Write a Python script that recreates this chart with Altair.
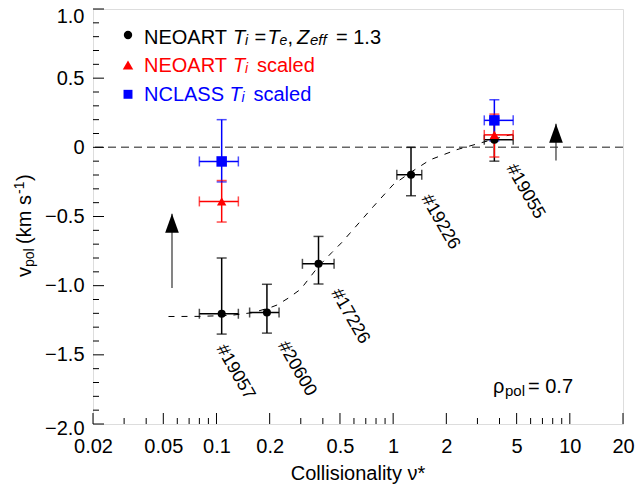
import altair as alt
import pandas as pd

FONT = "Liberation Sans"

# ---------------- data ----------------
series_names = ["NEOART Ti=Te", "NEOART Ti scaled", "NCLASS Ti scaled"]
series_colors = ["black", "red", "blue"]

black_x = [0.107, 0.193, 0.378, 1.262, 3.74]
black_y = [-1.203, -1.194, -0.842, -0.198, 0.055]
black_xlo = [0.080, 0.154, 0.3065, 1.049, 3.28]
black_xhi = [0.133, 0.226, 0.463, 1.452, 4.78]
black_ylo = [-1.35, -1.343, -0.988, -0.35, -0.10]
black_yhi = [-0.80, -0.99, -0.644, 0.0, 0.21]

red_x = [0.107, 3.74]
red_y = [-0.391, 0.09]
red_xlo = [0.080, 3.28]
red_xhi = [0.133, 4.78]
red_ylo = [-0.54, -0.07]
red_yhi = [-0.24, 0.24]

blue_x = [0.107, 3.74]
blue_y = [-0.102, 0.195]
blue_xlo = [0.080, 3.28]
blue_xhi = [0.133, 4.78]
blue_ylo = [-0.25, 0.046]
blue_yhi = [0.2, 0.344]

shot_labels = ["#19057", "#20600", "#17226", "#19226", "#19055"]
shot_label_x = [0.128, 0.285, 0.57, 1.85, 5.6]
shot_label_y = [-1.625, -1.6, -1.222, -0.54, -0.319]

curve_x = [0.0535, 0.08, 0.12, 0.16, 0.2, 0.22, 0.255, 0.3, 0.378, 0.45, 0.51,
           0.57, 0.77, 1.0, 1.26, 1.62, 2.29, 2.97, 4.0, 4.9]
curve_y = [-1.223, -1.222, -1.215, -1.195, -1.16, -1.14, -1.09, -1.025, -0.86,
           -0.76, -0.69, -0.62, -0.43, -0.27, -0.18, -0.09, -0.017, 0.024, 0.07, 0.1]

arrow_x = [0.056, 8.35]
arrow_tail = [-1.017, -0.095]
arrow_tip = [-0.48, 0.171]

x_label_values = [0.02, 0.05, 0.1, 0.2, 0.5, 1, 2, 5, 10, 20]
x_minor_values = [0.03, 0.04, 0.06, 0.07, 0.08, 0.09, 0.3, 0.4, 0.6, 0.7, 0.8, 0.9,
                  3, 4, 6, 7, 8, 9]
y_label_values = [-2.0, -1.5, -1.0, -0.5, 0.0, 0.5, 1.0]
y_minor_values = [-1.9, -1.8, -1.7, -1.6, -1.4, -1.3, -1.2, -1.1, -0.9, -0.8, -0.7,
                  -0.6, -0.4, -0.3, -0.2, -0.1, 0.1, 0.2, 0.3, 0.4, 0.6, 0.7, 0.8, 0.9]

# ---------------- tables ----------------
rows = []
for name, xs_, ys_, xl, xh, yl, yh in [
    (series_names[0], black_x, black_y, black_xlo, black_xhi, black_ylo, black_yhi),
    (series_names[1], red_x, red_y, red_xlo, red_xhi, red_ylo, red_yhi),
    (series_names[2], blue_x, blue_y, blue_xlo, blue_xhi, blue_ylo, blue_yhi),
]:
    for i in range(len(xs_)):
        rows.append(dict(series=name, x=xs_[i], y=ys_[i], xlo=xl[i], xhi=xh[i],
                         ylo=yl[i], yhi=yh[i]))
pts = pd.DataFrame(rows)
labels_df = pd.DataFrame(dict(label=shot_labels, x=shot_label_x, y=shot_label_y))
curve_df = pd.DataFrame(dict(x=curve_x, y=curve_y, o=list(range(len(curve_x)))))
arrow_df = pd.DataFrame(dict(x=arrow_x, tail=arrow_tail, tip=arrow_tip))
xmaj_df = pd.DataFrame(dict(v=x_label_values))
xmin_df = pd.DataFrame(dict(v=x_minor_values))
ymaj_df = pd.DataFrame(dict(v=y_label_values))
ymin_df = pd.DataFrame(dict(v=y_minor_values))
one = pd.DataFrame(dict(a=[0]))

W, H = 530, 415

xs = alt.Scale(type="log", domain=[0.02, 20], nice=False)
ys = alt.Scale(domain=[-2, 1], nice=False)

xaxis = alt.Axis(values=x_label_values, labelExpr="format(datum.value, '~g')",
                 labelFontSize=20, labelFont=FONT, labelColor="black", labelPadding=12,
                 ticks=False, tickSize=0, domain=False, grid=False, title=None,
                 labelFlush=False, labelOverlap=False)
yaxis = alt.Axis(values=y_label_values,
                 labelExpr="datum.value == 0 ? '0' : replace(format(datum.value, '.1f'), '-', '\u2212')",
                 labelFontSize=20, labelFont=FONT, labelColor="black", labelPadding=9,
                 ticks=False, tickSize=0, domain=False, grid=False, title=None,
                 labelFlush=False, labelOverlap=False,
                 labelOffset={"condition": [{"test": "datum.value == 1", "value": 7},
                                            {"test": "datum.value == -2", "value": 4}],
                              "value": 0})

color = alt.Color("series:N", scale=alt.Scale(domain=series_names, range=series_colors),
                  legend=None)

X = lambda f: alt.X(f, scale=xs, axis=xaxis)
Y = lambda f: alt.Y(f, scale=ys, axis=yaxis)

zero = alt.Chart(pd.DataFrame(dict(y=[0.0]))).mark_rule(
    color="#666666", strokeWidth=1.5, strokeDash=[8, 5]).encode(y=Y("y:Q"))

curve = alt.Chart(curve_df).mark_line(color="black", strokeWidth=1, strokeDash=[6, 7]).encode(
    x=X("x:Q"), y=Y("y:Q"), order="o:Q")

arrow_line = alt.Chart(arrow_df).mark_rule(color="#333333", strokeWidth=1.2).encode(
    x=X("x:Q"), y=Y("tail:Q"), y2="tip:Q")
arrow_head = alt.Chart(arrow_df).mark_point(
    shape="M0,0L0.36,1L-0.36,1Z", size=1444, filled=True, color="black", opacity=1).encode(
    x=X("x:Q"), y=Y("tip:Q"))

vbar = alt.Chart(pts).mark_rule(strokeWidth=1.5).encode(
    x=X("x:Q"), y=Y("ylo:Q"), y2="yhi:Q", color=color)
hbar = alt.Chart(pts).mark_rule(strokeWidth=1.5).encode(
    x=X("xlo:Q"), x2="xhi:Q", y=Y("y:Q"), color=color)
cap_lo = alt.Chart(pts).mark_tick(orient="horizontal", size=10, thickness=1.5).encode(
    x=X("x:Q"), y=Y("ylo:Q"), color=color)
cap_hi = alt.Chart(pts).mark_tick(orient="horizontal", size=10, thickness=1.5).encode(
    x=X("x:Q"), y=Y("yhi:Q"), color=color)
cap_l = alt.Chart(pts).mark_tick(orient="vertical", size=10, thickness=1.5).encode(
    x=X("xlo:Q"), y=Y("y:Q"), color=color)
cap_r = alt.Chart(pts).mark_tick(orient="vertical", size=10, thickness=1.5).encode(
    x=X("xhi:Q"), y=Y("y:Q"), color=color)

points = alt.Chart(pts).mark_point(filled=True, opacity=1).encode(
    x=X("x:Q"), y=Y("y:Q"), color=color,
    shape=alt.Shape("series:N", scale=alt.Scale(domain=series_names,
                                                range=["circle", "triangle-up", "square"]),
                    legend=None),
    size=alt.Size("series:O", scale=alt.Scale(domain=series_names, range=[65, 110, 75]),
                  legend=None))

shot_text = alt.Chart(labels_df).mark_text(
    angle=60, align="center", baseline="middle", fontSize=18, font=FONT, color="black").encode(
    x=X("x:Q"), y=Y("y:Q"), text="label:N")

xt_major = alt.Chart(xmaj_df).mark_rule(color="black", strokeWidth=1).encode(
    x=X("v:Q"), y=alt.value(H), y2=alt.value(H - 11))
xt_minor = alt.Chart(xmin_df).mark_rule(color="black", strokeWidth=1).encode(
    x=X("v:Q"), y=alt.value(H), y2=alt.value(H - 6))
yt_major = alt.Chart(ymaj_df).mark_rule(color="black", strokeWidth=1).encode(
    y=Y("v:Q"), x=alt.value(0), x2=alt.value(11))
yt_minor = alt.Chart(ymin_df).mark_rule(color="black", strokeWidth=1).encode(
    y=Y("v:Q"), x=alt.value(0), x2=alt.value(6))


def txt(s, x, y, size=20, color="black", style="normal", angle=0, align="left",
        baseline="alphabetic"):
    return alt.Chart(one).mark_text(
        text=s, fontSize=size, color=color, fontStyle=style, angle=angle, align=align,
        baseline=baseline, font=FONT).encode(x=alt.value(x), y=alt.value(y))


def marker(shape, x, y, size, color):
    return alt.Chart(one).mark_point(shape=shape, size=size, filled=True, color=color,
                                     opacity=1).encode(x=alt.value(x), y=alt.value(y))


legend = [
    marker("circle", 35, 26, 70, "black"),
    txt("NEOART", 51, 34.5),
    txt("T", 140, 34.5, style="italic"),
    txt("i", 152, 35.5, size=14, style="italic"),
    txt("=", 161.5, 34.5),
    txt("T", 174.5, 34.5, style="italic"),
    txt("e", 186.5, 35.5, size=14, style="italic"),
    txt(",", 194.5, 34.5),
    txt("Z", 204, 34.5, style="italic"),
    txt("eff", 217, 35.5, size=15, style="italic"),
    txt("= 1.3", 243, 34.5),

    marker("triangle-up", 35, 56, 110, "red"),
    txt("NEOART", 51, 63.3, color="red"),
    txt("T", 140, 63.3, color="red", style="italic"),
    txt("i", 152, 64.3, size=14, color="red", style="italic"),
    txt("scaled", 164, 63.3, color="red"),

    marker("square", 35, 85.3, 80, "blue"),
    txt("NCLASS", 51, 92, color="blue"),
    txt("T", 136.5, 92, color="blue", style="italic"),
    txt("i", 148.5, 93, size=14, color="blue", style="italic"),
    txt("scaled", 160.5, 92, color="blue"),
]

rho = [
    txt("\u03c1", 400, 384),
    txt("pol", 412, 387, size=15),
    txt("= 0.7", 435, 384),
]

xtitle = [txt("Collisionality \u03bd*", W / 2, 471, align="center")]

ytitle = [
    txt("v", -62, 268, angle=270),
    txt("pol", -59, 258, size=14, angle=270),
    txt("(km s", -62, 235, angle=270),
    txt("-1", -69, 185, size=14, angle=270),
    txt(")", -62, 172, angle=270),
]

chart = alt.layer(
    zero, curve, arrow_line, arrow_head,
    vbar, hbar, cap_lo, cap_hi, cap_l, cap_r, points, shot_text,
    xt_major, xt_minor, yt_major, yt_minor,
    *legend, *rho, *xtitle, *ytitle,
).properties(
    width=W, height=H,
    autosize=alt.AutoSizeParams(type="none"),
    padding={"left": 93, "top": 9, "right": 12, "bottom": 60},
).configure_view(
    stroke="black", strokeWidth=1.2
).configure(background="white")

chart.save("out.html", embed_options={"renderer": "svg", "actions": False})
